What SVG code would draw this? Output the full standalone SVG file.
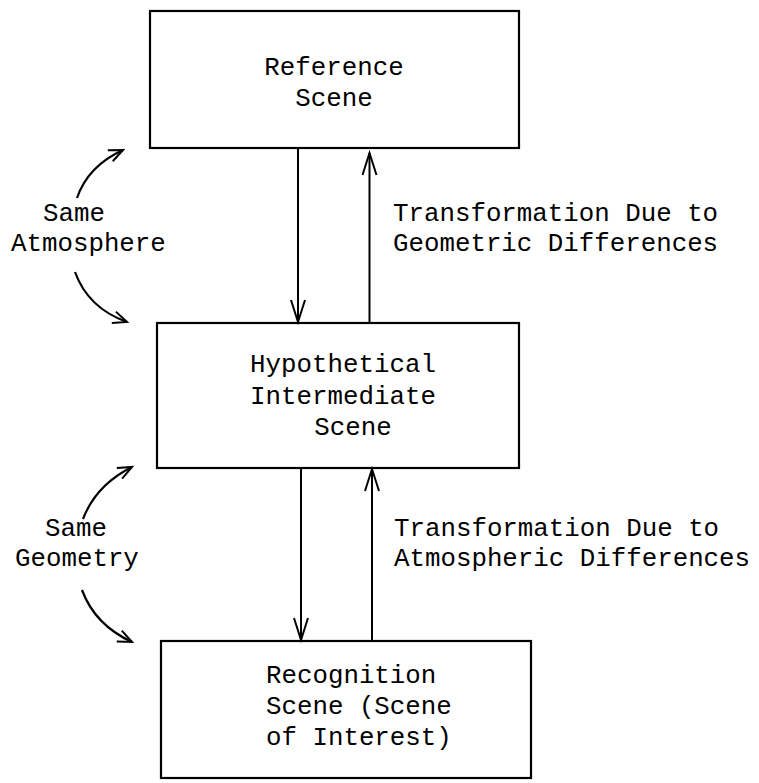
<svg xmlns="http://www.w3.org/2000/svg" width="759" height="783" viewBox="0 0 759 783">
<defs>
<style>
.box{fill:none;stroke:#000;stroke-width:2.2}
.t{font-family:"Liberation Mono","Courier New",monospace;font-size:25.8px;fill:#000}
.m{text-anchor:middle}
.ln{fill:none;stroke:#000;stroke-width:2}
.cv{fill:none;stroke:#000;stroke-width:2.2}
</style>
<marker id="big" markerUnits="userSpaceOnUse" markerWidth="30" markerHeight="20" refX="24" refY="8" orient="auto" viewBox="0 0 30 16">
<path d="M2,1 L24,8 L2,15" fill="none" stroke="#000" stroke-width="2"/>
</marker>
<marker id="sm" markerUnits="userSpaceOnUse" markerWidth="20" markerHeight="16" refX="16" refY="7" orient="auto" viewBox="0 0 20 14">
<path d="M2,1 L16,7 L2,13" fill="none" stroke="#000" stroke-width="2"/>
</marker>
</defs>
<rect width="759" height="783" fill="#fff"/>
<g id="reference-scene">
<rect class="box" x="150" y="11" width="369" height="137"/>
<text class="t m" x="334" y="75">Reference</text>
<text class="t m" x="334" y="106">Scene</text>
</g>
<g id="intermediate-scene">
<rect class="box" x="157" y="323" width="362" height="145"/>
<text class="t m" x="343" y="372">Hypothetical</text>
<text class="t m" x="343" y="404">Intermediate</text>
<text class="t m" x="353" y="435">Scene</text>
</g>
<g id="recognition-scene">
<rect class="box" x="161" y="641" width="370" height="137"/>
<text class="t" x="266" y="683">Recognition</text>
<text class="t" x="266" y="714">Scene (Scene</text>
<text class="t" x="266" y="745">of Interest)</text>
</g>
<g id="labels">
<text class="t" x="43" y="221">Same</text>
<text class="t" x="11" y="251">Atmosphere</text>
<text class="t" x="45" y="536">Same</text>
<text class="t" x="15" y="566">Geometry</text>
<text class="t" x="393" y="221">Transformation Due to</text>
<text class="t" x="393" y="251">Geometric Differences</text>
<text class="t" x="394" y="536">Transformation Due to</text>
<text class="t" x="394" y="566">Atmospheric Differences</text>
</g>
<g id="connectors">
<line class="ln" x1="298" y1="148" x2="298" y2="322" marker-end="url(#big)"/>
<line class="ln" x1="369.5" y1="323" x2="369.5" y2="153" marker-end="url(#big)"/>
<line class="ln" x1="301" y1="468" x2="301" y2="640" marker-end="url(#big)"/>
<line class="ln" x1="372" y1="640" x2="372" y2="469" marker-end="url(#big)"/>
<path class="cv" d="M77,198 Q88,166 123,150" marker-end="url(#sm)"/>
<path class="cv" d="M75,272 Q88,308 127,322" marker-end="url(#sm)"/>
<path class="cv" d="M83,519 Q96,485 132,467" marker-end="url(#sm)"/>
<path class="cv" d="M82,590 Q95,625 132,642" marker-end="url(#sm)"/>
</g>
</svg>
